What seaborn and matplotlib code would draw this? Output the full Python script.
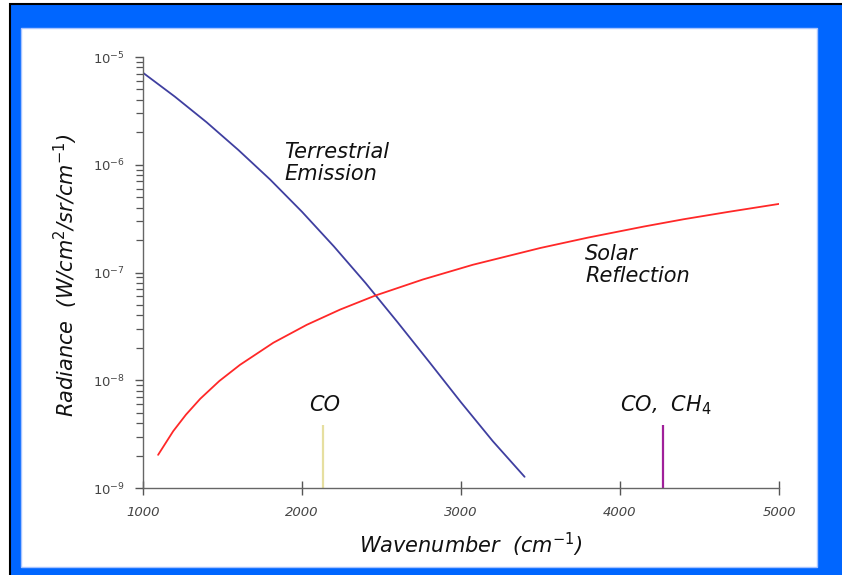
import matplotlib
matplotlib.use("Agg")
import matplotlib.pyplot as plt
import seaborn as sns
import pandas as pd
from matplotlib.patches import Rectangle
from matplotlib.ticker import LogLocator, FixedLocator, FixedFormatter, NullFormatter

# ---- data ----
terr_wavenumber = [1000, 1200, 1400, 1600, 1800, 2000, 2200, 2400, 2600, 2800, 3000, 3200, 3400]
terr_radiance = [7.14e-6, 4.29e-6, 2.48e-6, 1.37e-6, 7.28e-7, 3.66e-7, 1.75e-7, 7.98e-8,
                 3.47e-8, 1.48e-8, 6.24e-9, 2.72e-9, 1.27e-9]

solar_wavenumber = [1095, 1190, 1270, 1360, 1480, 1610, 1820, 2030, 2240, 2460, 2760, 3075,
                    3500, 3800, 4150, 4400, 4680, 5000]
solar_radiance = [2.03e-9, 3.37e-9, 4.79e-9, 6.73e-9, 9.84e-9, 1.39e-8, 2.23e-8, 3.27e-8,
                  4.53e-8, 6.10e-8, 8.61e-8, 1.18e-7, 1.69e-7, 2.11e-7, 2.67e-7, 3.12e-7,
                  3.65e-7, 4.33e-7]

band_positions = [2135, 4270]
band_tops = [3.85e-9, 3.85e-9]
band_labels = ["CO", "CO,  CH$_4$"]
band_colors = ["#E6DFA0", "#A0209A"]

xticks = [1000, 2000, 3000, 4000, 5000]
xtick_labels = ["1000", "2000", "3000", "4000", "5000"]
yticks = [1e-9, 1e-8, 1e-7, 1e-6, 1e-5]
ytick_labels = ["$10^{-9}$", "$10^{-8}$", "$10^{-7}$", "$10^{-6}$", "$10^{-5}$"]

curve_labels = ["Terrestrial\nEmission", "Solar\nReflection"]

# ---- style ----
sns.set_style("ticks")
plt.rcParams["font.family"] = ["DejaVu Sans"]
plt.rcParams["mathtext.fontset"] = "dejavusans"
plt.rcParams["mathtext.default"] = "it"

W, H = 842, 575
fig = plt.figure(figsize=(W / 100, H / 100), dpi=100, facecolor="white")

# blue frame with black outline, then white panel (behind the axes)
fig.patches.append(Rectangle((10 / W, -0.1), 1.2, 1.1 - 4 / H, transform=fig.transFigure,
                             facecolor="#0066FF", edgecolor="black", lw=1.5, zorder=-2))
fig.patches.append(Rectangle((21 / W, (H - 567) / H), 796 / W, 539 / H, transform=fig.transFigure,
                             facecolor="white", edgecolor="#A8C4FF", lw=1.0, zorder=-1))

ax = fig.add_axes([143 / W, (H - 488) / H, 636 / W, 431 / H])
ax.patch.set_alpha(0)

df_t = pd.DataFrame({"Wavenumber": terr_wavenumber, "Radiance": terr_radiance})
df_s = pd.DataFrame({"Wavenumber": solar_wavenumber, "Radiance": solar_radiance})
sns.lineplot(data=df_t, x="Wavenumber", y="Radiance", color="#3F3FA0", lw=1.3, ax=ax)
sns.lineplot(data=df_s, x="Wavenumber", y="Radiance", color="#FF2828", lw=1.3, ax=ax)

for xpos, top, col in zip(band_positions, band_tops, band_colors):
    ax.vlines(xpos, 1e-9, top, color=col, lw=1.6)

ax.set_yscale("log")
ax.set_xlim(1000, 5000)
ax.set_ylim(1e-9, 1e-5)

ax.yaxis.set_major_locator(FixedLocator(yticks))
ax.yaxis.set_major_formatter(FixedFormatter(ytick_labels))
ax.yaxis.set_minor_locator(LogLocator(base=10, subs=range(2, 10)))
ax.yaxis.set_minor_formatter(NullFormatter())
ax.xaxis.set_major_locator(FixedLocator(xticks))
ax.xaxis.set_major_formatter(FixedFormatter(xtick_labels))

for s in ["top", "right"]:
    ax.spines[s].set_visible(False)
for s in ["left", "bottom"]:
    ax.spines[s].set_color("#666666")
    ax.spines[s].set_linewidth(1.0)

ax.tick_params(axis="y", which="major", direction="out", length=6, width=1.0, color="#555555",
               labelsize=9.5, labelcolor="#444444", pad=7)
ax.tick_params(axis="y", which="minor", direction="out", length=5, width=0.9, color="#555555")
ax.tick_params(axis="x", which="major", direction="inout", length=10, width=1.0, color="#555555",
               labelsize=9.5, labelcolor="#444444", pad=8)
for lab in ax.get_xticklabels():
    lab.set_fontstyle("italic")

ax.set_xlabel("Wavenumber  (cm$^{-1}$)", fontsize=15, fontstyle="italic", color="#111111")
ax.xaxis.set_label_coords(0.516, -0.100)
ax.set_ylabel("Radiance  (W/cm$^2$/sr/cm$^{-1}$)", fontsize=15, fontstyle="italic", color="#111111")
ax.yaxis.set_label_coords(-0.099, 0.494)

ax.text(1890, 10 ** -5.79, curve_labels[0], fontsize=15, fontstyle="italic", ha="left", va="top",
        linespacing=1.1, color="#111111")
ax.text(3780, 10 ** -6.74, curve_labels[1], fontsize=15, fontstyle="italic", ha="left", va="top",
        linespacing=1.1, color="#111111")
ax.text(2145, 10 ** -8.285, band_labels[0], fontsize=15, fontstyle="italic", ha="center", va="baseline",
        color="#111111")
ax.text(4289, 10 ** -8.285, band_labels[1], fontsize=15, fontstyle="italic", ha="center", va="baseline",
        color="#111111")

fig.savefig("out.png", dpi=100, facecolor=fig.get_facecolor())
